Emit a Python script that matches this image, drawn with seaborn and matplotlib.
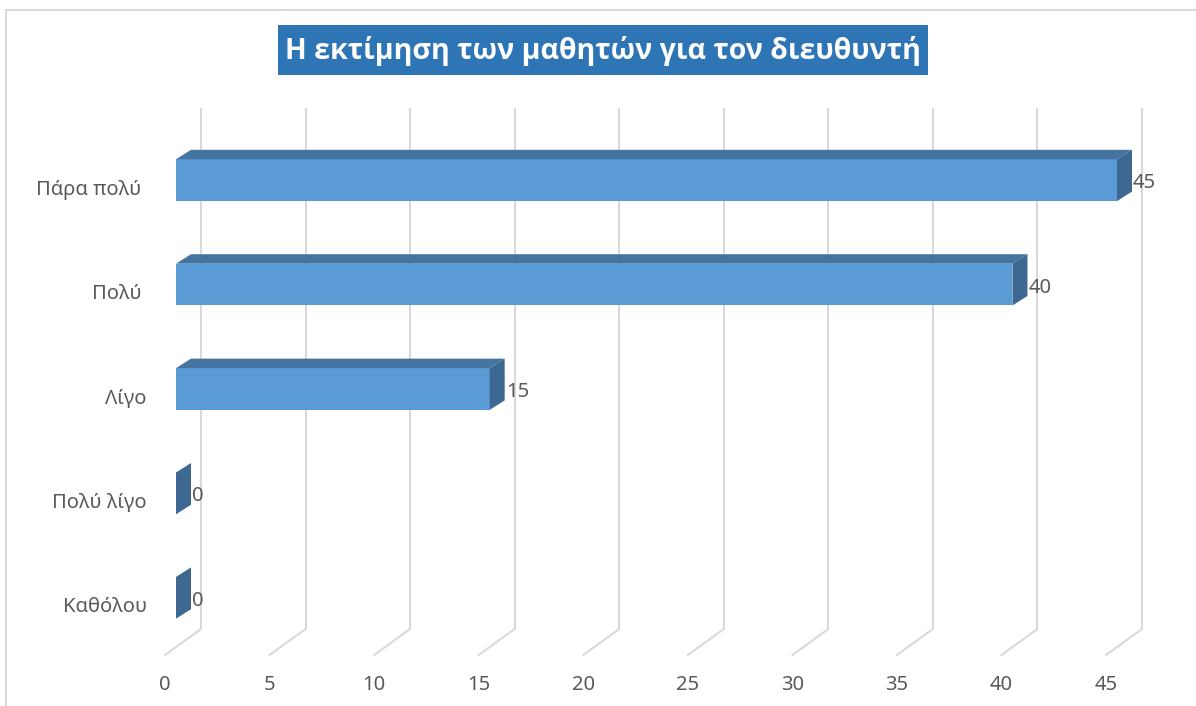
## Imports
import numpy as np
import pandas as pd
import matplotlib
matplotlib.use("Agg")
import matplotlib.pyplot as plt
from matplotlib.patches import Polygon, Rectangle
from matplotlib.transforms import ScaledTranslation
import seaborn as sns


# Chart data (top to bottom)
categories = ["Πάρα πολύ ", "Πολύ ", "Λίγο", "Πολύ λίγο", "Καθόλου"]
values = [45, 40, 15, 0, 0]
x_ticks = [0, 5, 10, 15, 20, 25, 30, 35, 40, 45]
title = "Η εκτίμηση των μαθητών για τον διευθυντή"

# Colours
FRONT = "#5B9BD5"
TOP = "#4574A1"
SIDE = "#3C6892"
GRID = "#D9D9D9"
TEXT = "#595959"

# Figure geometry (pixels at dpi=100)
W, H, DPI = 1196, 706, 100
AX_LEFT, AX_RIGHT = 176, 1117
AX_TOP, AX_BOTTOM = 128, 650
X_MAX = 45
PX_X = (AX_RIGHT - AX_LEFT) / X_MAX      # pixels per value unit
PX_Y = (AX_BOTTOM - AX_TOP) / len(categories)  # pixels per category


def px_to_y(py):
    """Convert a figure pixel row to a data y value (inverted category axis)."""
    return -0.5 + (py - AX_TOP) / PX_Y


def draw_chart():
    sns.set_theme(style="white")
    plt.rcParams["font.family"] = ["Noto Sans", "DejaVu Sans"]

    fig = plt.figure(figsize=(W / DPI, H / DPI), dpi=DPI)
    ax = fig.add_axes([AX_LEFT / W, 1 - AX_BOTTOM / H,
                       (AX_RIGHT - AX_LEFT) / W, (AX_BOTTOM - AX_TOP) / H])

    df = pd.DataFrame({"category": categories, "value": values})

    # Back wall gridlines + floor lines (3D look)
    back_dx = 25 / PX_X
    front_dx = -11 / PX_X
    y_top, y_floor, y_front = px_to_y(108), px_to_y(629), px_to_y(655)
    for t in x_ticks:
        ax.plot([t + back_dx, t + back_dx], [y_top, y_floor], color=GRID,
                lw=1.5, zorder=0.5, clip_on=False, solid_capstyle="butt")
        ax.plot([t + back_dx, t + front_dx], [y_floor, y_front], color=GRID,
                lw=1.5, zorder=0.5, clip_on=False)

    # Front faces of the bars
    sns.barplot(data=df, x="value", y="category", orient="h", color=FRONT,
                saturation=1, width=0.4, linewidth=0, ax=ax, zorder=2)

    # Top and side faces
    dxb = 15 / PX_X
    dyb = 9.5 / PX_Y
    for i, v in enumerate(values):
        yt, yb = i - 0.2, i + 0.2
        if v > 0:
            ax.add_patch(Polygon([(0, yt), (v, yt), (v + dxb, yt - dyb), (dxb, yt - dyb)],
                                 closed=True, facecolor=TOP, edgecolor="none",
                                 zorder=2, clip_on=False))
        ax.add_patch(Polygon([(v, yt), (v + dxb, yt - dyb), (v + dxb, yb - dyb), (v, yb)],
                             closed=True, facecolor=SIDE, edgecolor="none",
                             zorder=2, clip_on=False))
        ax.text(v + 16 / PX_X, i + 3 / PX_Y, str(v), ha="left", va="center",
                fontsize=14.5, color=TEXT, zorder=3, clip_on=False)

    ax.set_xlim(0, X_MAX)
    ax.set_ylim(len(categories) - 0.5, -0.5)
    ax.set_xlabel("")
    ax.set_ylabel("")
    sns.despine(ax=ax, left=True, bottom=True)
    ax.grid(False)
    ax.set_facecolor("none")

    # Tick labels sit on the front floor edge
    ax.set_xticks(x_ticks)
    ax.set_xticklabels([str(t) for t in x_ticks])
    ax.tick_params(axis="x", length=0, pad=18, labelsize=14.5, labelcolor=TEXT)
    ax.tick_params(axis="y", length=0, pad=21, labelsize=14.5, labelcolor=TEXT)
    shift_x = ScaledTranslation(-11 / DPI, 0, fig.dpi_scale_trans)
    for lbl in ax.get_xticklabels():
        lbl.set_transform(lbl.get_transform() + shift_x)
    shift_y = ScaledTranslation(0, -7 / DPI, fig.dpi_scale_trans)
    for lbl in ax.get_yticklabels():
        lbl.set_transform(lbl.get_transform() + shift_y)

    # Chart frame
    fig.patches.append(Rectangle((6 / W, -0.05), 1.1, 1 - 10 / H + 0.05,
                                 transform=fig.transFigure, facecolor="none",
                                 edgecolor=GRID, lw=1.5, zorder=0))

    # Title in a blue box
    fig.patches.append(Rectangle((278 / W, 1 - 75 / H), 650 / W, 50 / H,
                                 transform=fig.transFigure, facecolor="#2E75B6",
                                 edgecolor="none", zorder=1))
    fig.text(603 / W, 1 - 51 / H, title, ha="center", va="center",
             fontsize=20.5, fontweight="bold", color="white", zorder=2,
             family=["Open Sans", "Roboto", "DejaVu Sans"])

    fig.savefig("out.png", dpi=DPI)


if __name__ == "__main__":
    draw_chart()
